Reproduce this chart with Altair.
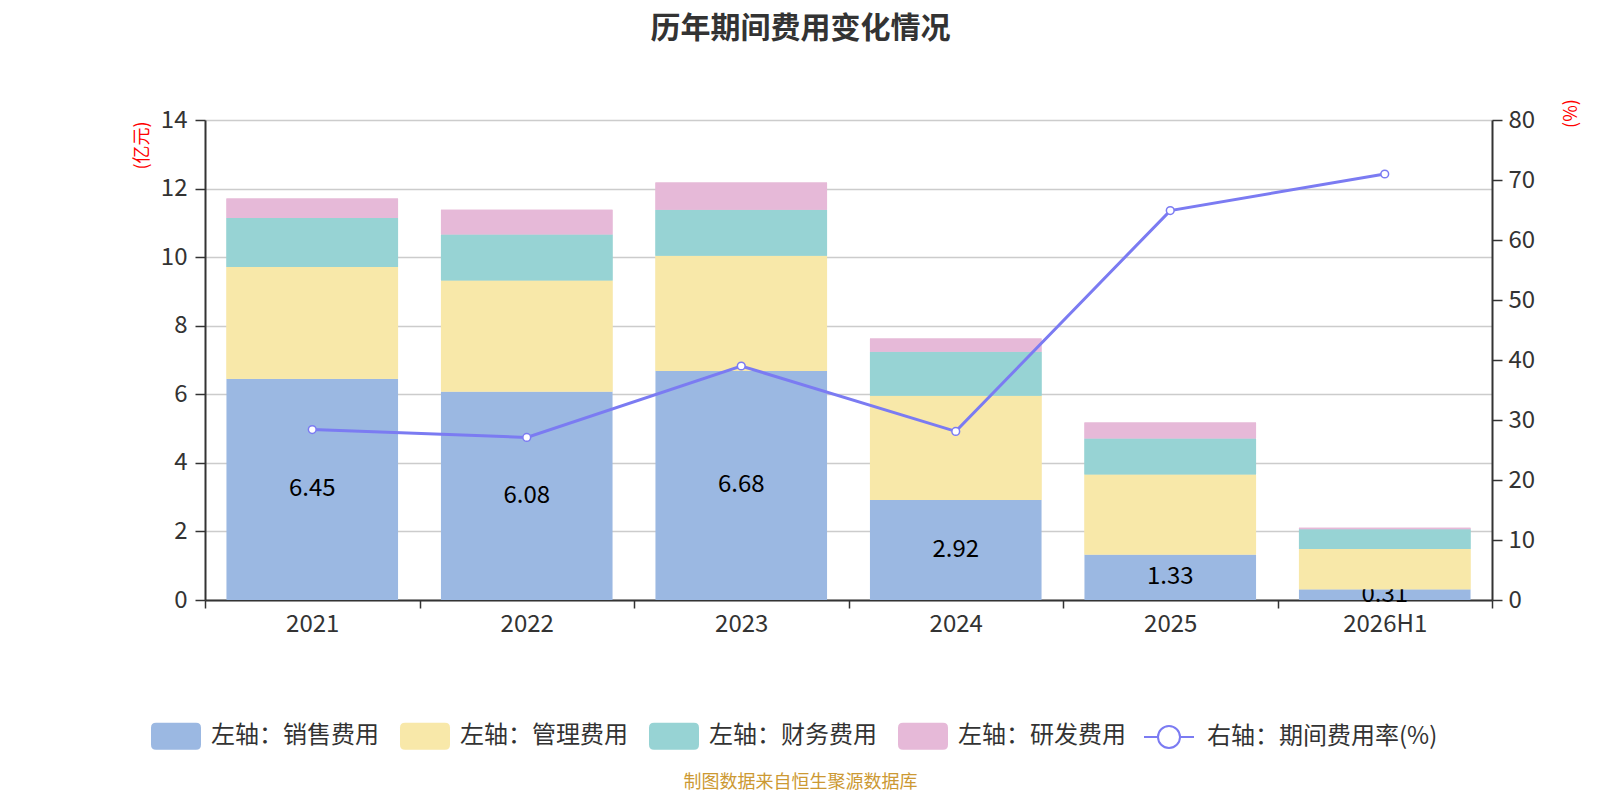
import altair as alt
import pandas as pd

years = ["2021", "2022", "2023", "2024", "2025", "2026H1"]
series_names = ["左轴：销售费用", "左轴：管理费用", "左轴：财务费用", "左轴：研发费用"]
sales = [6.45, 6.08, 6.68, 2.92, 1.33, 0.31]
admin = [3.26, 3.24, 3.36, 3.04, 2.33, 1.18]
finance = [1.43, 1.34, 1.34, 1.28, 1.05, 0.57]
rnd = [0.57, 0.72, 0.80, 0.39, 0.47, 0.05]
rate_name = "右轴：期间费用率(%)"
rate = [28.4, 27.1, 39.0, 28.1, 64.9, 71.0]

colors = ["#9bb8e2", "#f8e8a9", "#97d3d4", "#e6b9d8"]
line_color = "#7b7bf2"
FONT = "Noto Sans CJK SC"

rows = []
for i, y in enumerate(years):
    for k, (name, vals) in enumerate(zip(series_names, [sales, admin, finance, rnd])):
        rows.append({"year": y, "series": name, "value": vals[i], "order": k})
df = pd.DataFrame(rows)
df_sales = pd.DataFrame({"year": years, "value": sales})
df_rate = pd.DataFrame({"year": years, "rate": rate, "name": [rate_name] * len(years)})

rr_path = ("M-0.8,-0.54 L0.8,-0.54 Q1,-0.54 1,-0.34 L1,0.34 Q1,0.54 0.8,0.54 "
           "L-0.8,0.54 Q-1,0.54 -1,0.34 L-1,-0.34 Q-1,-0.54 -0.8,-0.54 Z")
lc_path = ("M-1,0 L-0.44,0 M0.44,0 L1,0 M0.44,0 A0.44,0.44 0 1,1 -0.44,0 "
           "A0.44,0.44 0 1,1 0.44,0 Z")

x_axis = alt.Axis(
    title="制图数据来自恒生聚源数据库", titleX=595, titleY=182, titleAlign="center",
    titleBaseline="middle", titleColor="#cc9933", titleFontSize=18, titleFontWeight="normal",
    titleFont=FONT, labelAngle=0, labelFontSize=24, labelColor="#333", labelFont=FONT,
    tickBand="extent", tickSize=8, tickColor="#333", tickWidth=1.5, domainColor="#333",
    domainWidth=2, labelPadding=4, grid=False,
)
x_enc = alt.X("year:N", sort=years, scale=alt.Scale(paddingInner=0, paddingOuter=0), axis=x_axis)

left_axis = alt.Axis(
    title="(亿元)", titleAngle=270, titleX=-63, titleY=25, titleAlign="center",
    titleBaseline="middle", titleColor="#ff0000", titleFontSize=18, titleFontWeight="normal",
    titleFont=FONT, values=[0, 2, 4, 6, 8, 10, 12, 14], labelFontSize=24, labelColor="#333",
    labelFont=FONT, tickSize=10, tickColor="#333", tickWidth=1.5, domainColor="#333",
    domainWidth=2, labelPadding=8, grid=True, gridColor="#cccccc", gridWidth=1.5,
)
right_axis = alt.Axis(
    title="(%)", orient="right", titleAngle=270, titleX=79, titleY=-7, titleAlign="center",
    titleBaseline="middle", titleColor="#ff0000", titleFontSize=18, titleFontWeight="normal",
    titleFont=FONT, values=[0, 10, 20, 30, 40, 50, 60, 70, 80], labelFontSize=24,
    labelColor="#333", labelFont=FONT, tickSize=10, tickColor="#333", tickWidth=1.5,
    domainColor="#333", domainWidth=2, labelPadding=6, grid=False,
)

bar_legend = alt.Legend(
    title=None, orient="none", legendX=-54, legendY=591, direction="horizontal", columns=4,
    symbolType=rr_path, symbolSize=2500, symbolStrokeWidth=0, symbolOpacity=1,
    labelFontSize=24, labelColor="#333", labelFont=FONT, labelOffset=10, columnPadding=21,
    padding=0, labelLimit=400,
)
line_legend = alt.Legend(
    title=None, orient="none", legendX=938, legendY=591, symbolType=lc_path,
    symbolSize=2500, symbolStrokeWidth=2, symbolStrokeColor=line_color,
    symbolFillColor="white", labelFontSize=24, labelColor="#333", labelFont=FONT,
    labelOffset=12, padding=0, labelLimit=400,
)

fill_enc = alt.Fill("series:N", scale=alt.Scale(domain=series_names, range=colors), legend=bar_legend)
y_left = alt.Y("y0:Q", scale=alt.Scale(domain=[0, 14]), axis=left_axis)

stacked = alt.Chart(df).transform_stack(
    stack="value", groupby=["year"], as_=["y0", "y1"], sort=[alt.SortField("order")]
)
bar_width = alt.RelativeBandSize(0.8)
bars = stacked.mark_bar(width=bar_width).encode(x=x_enc, y=y_left, y2="y1:Q", fill=fill_enc)
bars_top = stacked.transform_filter("datum.order > 0").mark_bar(width=bar_width).encode(
    x=x_enc, y=y_left, y2="y1:Q", fill=fill_enc
)
labels = alt.Chart(df_sales).transform_calculate(mid="datum.value / 2").mark_text(
    fontSize=24, color="#000", font=FONT, baseline="middle"
).encode(
    x=x_enc,
    y=alt.Y("mid:Q", scale=alt.Scale(domain=[0, 14]), axis=left_axis),
    text=alt.Text("value:Q", format=".2f"),
)
left = alt.layer(bars, labels, bars_top)

y_right = alt.Y("rate:Q", scale=alt.Scale(domain=[0, 80]), axis=right_axis)
line = alt.Chart(df_rate).mark_line(strokeWidth=3).encode(
    x=x_enc, y=y_right,
    stroke=alt.Stroke("name:N", scale=alt.Scale(domain=[rate_name], range=[line_color]), legend=line_legend),
)
points = alt.Chart(df_rate).mark_point(
    filled=True, fill="white", stroke=line_color, strokeWidth=1.5, size=60, opacity=1
).encode(x=x_enc, y=y_right)
right = alt.layer(line, points)

chart = alt.layer(left, right).resolve_scale(y="independent").properties(
    width=1287, height=480,
    autosize=alt.AutoSizeParams(type="none"),
    padding={"left": 197, "top": 112, "right": 95, "bottom": 192},
    title=alt.TitleParams(
        "历年期间费用变化情况", fontSize=30, fontWeight="bold", color="#333", font=FONT,
        anchor="middle", frame="group", dx=-48, dy=5, offset=60,
    ),
).configure_view(stroke=None).configure(font=FONT)

chart.save("out.html", embed_options={"renderer": "svg", "actions": False})
